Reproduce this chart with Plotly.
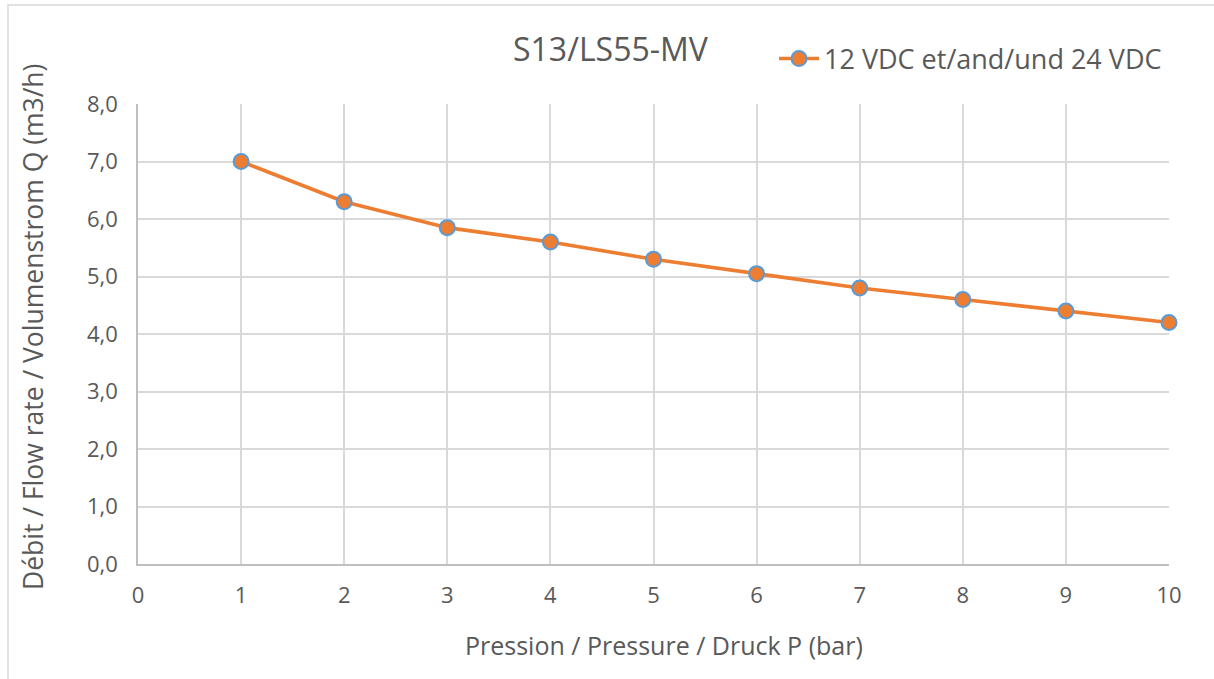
import plotly.graph_objects as go

pressure = [1, 2, 3, 4, 5, 6, 7, 8, 9, 10]
flow = [7.0, 6.3, 5.85, 5.6, 5.3, 5.05, 4.8, 4.6, 4.4, 4.2]
series_name = "12 VDC et/and/und 24 VDC"
title_text = "S13/LS55-MV"
x_title = "Pression / Pressure / Druck P (bar)"
y_title = "Débit / Flow rate / Volumenstrom Q (m3/h)"
x_ticks = [0, 1, 2, 3, 4, 5, 6, 7, 8, 9, 10]
y_ticks = [0, 1, 2, 3, 4, 5, 6, 7, 8]

FONT = "Open Sans"
TXT = "#595959"
GRID = "#d9d9d9"

W, H = 1214, 679
L, R, T, B = 138, 45, 104, 115
pw, ph = W - L - R, H - T - B

fig = go.Figure()
fig.add_trace(go.Scatter(
    x=pressure, y=flow, mode="lines+markers", name=series_name,
    cliponaxis=False,
    line=dict(color="#ed7d31", width=3.6),
    marker=dict(color="#ed7d31", size=15, line=dict(color="#5b9bd5", width=2)),
))

def px_x(px):
    return (px - L) / pw

def px_y(py):
    return (H - B - py) / ph

fig.update_layout(
    width=W, height=H,
    margin=dict(l=L, r=R, t=T, b=B),
    paper_bgcolor="white", plot_bgcolor="white",
    separators=", ",
    font=dict(family=FONT, color=TXT, size=16),
    showlegend=True,
    legend=dict(x=px_x(774), y=px_y(59), xanchor="left", yanchor="middle",
                font=dict(size=27, color=TXT, family=FONT), bgcolor="rgba(0,0,0,0)",
                itemwidth=40, tracegroupgap=0),
    xaxis=dict(range=[0, 10], tickvals=x_ticks, showgrid=True, gridcolor=GRID, gridwidth=1.5,
               zeroline=False, showline=True, linecolor="#bfbfbf", linewidth=1.5,
               ticks="", ticklabelstandoff=11, tickfont=dict(size=22, color=TXT)),
    yaxis=dict(range=[0, 8], tickvals=y_ticks, tickformat=".1f", showgrid=True, gridcolor=GRID,
               gridwidth=1.5, zeroline=False, showline=True, linecolor="#bfbfbf", linewidth=1.5,
               ticks="", ticklabelstandoff=14, tickfont=dict(size=22, color=TXT)),
    annotations=[
        dict(text=title_text, xref="paper", yref="paper", x=px_x(611), y=px_y(48),
             xanchor="center", yanchor="middle", showarrow=False,
             font=dict(size=32, color=TXT, family=FONT)),
        dict(text=x_title, xref="paper", yref="paper", x=px_x(664), y=px_y(645),
             xanchor="center", yanchor="middle", showarrow=False,
             font=dict(size=25, color=TXT, family=FONT)),
        dict(text=y_title, xref="paper", yref="paper", x=px_x(33), y=px_y(327),
             xanchor="center", yanchor="middle", showarrow=False, textangle=-90,
             font=dict(size=26.5, color=TXT, family=FONT)),
    ],
    shapes=[
        dict(type="rect", xref="paper", yref="paper", x0=px_x(8), x1=px_x(1240),
             y0=px_y(720), y1=px_y(5), line=dict(color=GRID, width=1.5), layer="below"),
    ],
)

fig.write_html("out.html", config={"displayModeBar": False},
               post_script="document.body.style.margin='0';")
